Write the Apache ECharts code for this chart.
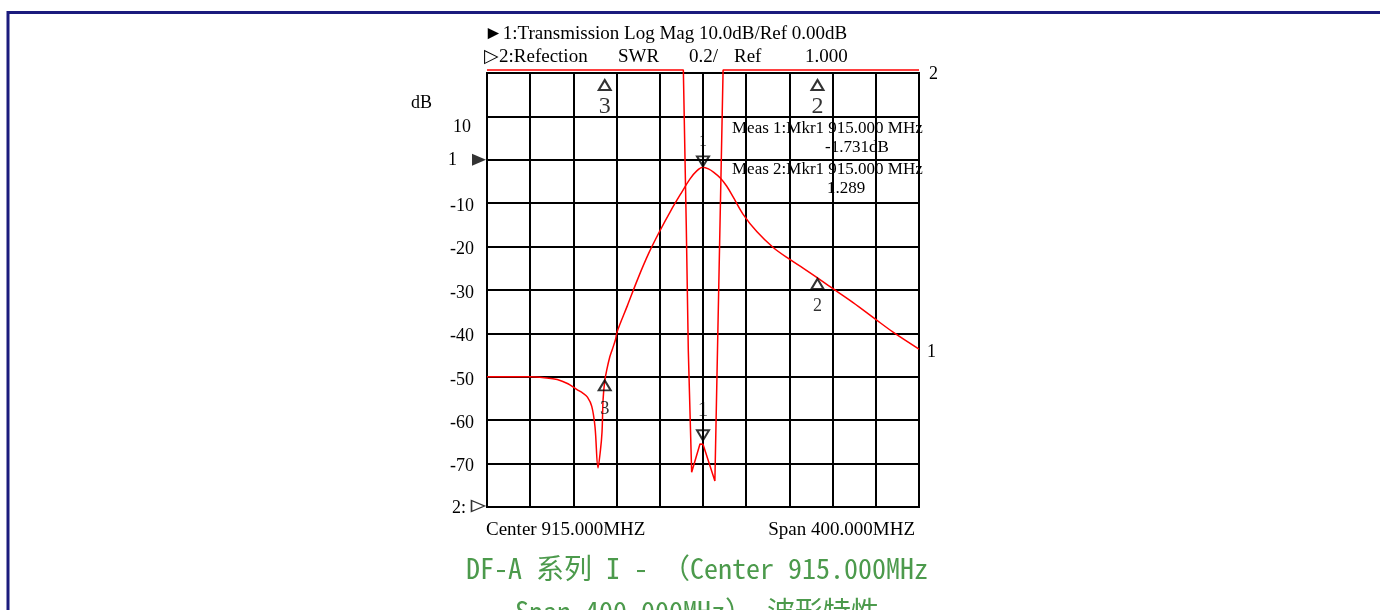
<!DOCTYPE html>
<html>
<head>
<meta charset="utf-8">
<script src="https://cdn.jsdelivr.net/npm/echarts@6/dist/echarts.min.js"></script>
<style>
html,body{margin:0;padding:0;background:#fff;}
#c{width:1380px;height:610px;}
</style>
</head>
<body>
<div id="c"></div>
<script>
// ---- data ----
const CENTER_MHZ = 915;
const SPAN_MHZ = 400;

// Trace 1: Transmission, Log Mag (dB)
const t1Freq = [715, 755, 768, 780, 790, 798, 804, 808, 812, 815, 817.8, 820, 821.5, 822.5, 824, 826, 828.5, 831, 834, 835.5, 845, 855, 865, 875, 885, 895, 903, 909, 915, 920, 925, 931, 937, 943, 952, 965, 980, 995, 1008, 1021, 1033, 1054, 1074, 1091, 1115];
const t1Db   = [-50, -50, -50.2, -50.6, -51.6, -52.9, -53.8, -54.7, -56.8, -61.5, -71.0, -67.0, -62.7, -55.2, -51.0, -48.3, -45.6, -43.7, -41.4, -39.6, -33.6, -27.2, -21.4, -16.4, -11.8, -7.6, -4.4, -2.6, -1.73, -2.1, -2.9, -4.2, -6.1, -8.6, -12.5, -16.6, -20.2, -22.9, -25.0, -27.2, -29.3, -32.9, -36.6, -39.7, -43.6];

// Trace 2: Reflection, SWR (values above 3.0 are off-scale at the top)
const t2Freq = [715, 896.8, 899.5, 901.4, 904.5, 912.2, 915, 916.7, 926, 933.6, 1115];
const t2Swr  = [3.014, 3.014, 2.30, 1.72, 1.16, 1.29, 1.289, 1.29, 1.12, 3.014, 3.014];

// Markers
const t1MarkerFreq = [915, 1021, 824];
const t1MarkerDb   = [-1.731, -27.2, -50.6];
const t1MarkerName = ['1', '2', '3'];
const t2MarkerFreq = [915, 1021, 824];
const t2MarkerSwr  = [1.289, 3.0, 3.0];
const t2MarkerName = ['1', '2', '3'];

// Axis settings / texts
const dbMin = -80, dbMax = 20, dbStep = 10;
const swrMin = 1.0, swrMax = 3.0, swrStep = 0.2;
const titleLine1 = '\u25BA1:Transmission Log Mag 10.0dB/Ref 0.00dB';
const titleLine2Parts = ['\u25B72:Refection', 'SWR', '0.2/', 'Ref', '1.000'];
const measLines = ['Meas 1:Mkr1 915.000 MHz', '-1.731dB', 'Meas 2:Mkr1 915.000 MHz', '1.289'];
const centerText = 'Center 915.000MHZ';
const spanText = 'Span 400.000MHZ';
const captionLine1 = 'DF-A 系列 I - （Center 915.000MHz';
const captionLine2 = 'Span 400.000MHz） 波形特性';

// ---- build ----
const off = f => f - CENTER_MHZ;
const t1Data = t1Freq.map((f, i) => [off(f), t1Db[i]]);
const t2Data = t2Freq.map((f, i) => [off(f), t2Swr[i]]);

const SERIF = '"Liberation Serif", "Times New Roman", serif';
const MONO = '"Noto Sans Mono CJK SC", "DejaVu Sans Mono", monospace';
const RED = '#ff0000';

const chart = echarts.init(document.getElementById('c'), null, {renderer: 'canvas'});

const yLabel = v => {
  if (v === 20) return '';
  if (v === 10) return '{ten|10}';
  if (v === 0) return '{one|1}';
  if (v === -80) return '{two|2:}';
  return '{n|' + v + '}';
};

const option = {
  animation: false,
  backgroundColor: '#ffffff',
  grid: {left: 487, top: 73, width: 432, height: 434, show: true, borderColor: '#000', borderWidth: 2, backgroundColor: 'transparent'},
  xAxis: {
    type: 'value', min: -SPAN_MHZ / 2, max: SPAN_MHZ / 2, interval: SPAN_MHZ / 10,
    axisLine: {show: false}, axisTick: {show: false}, axisLabel: {show: false},
    splitLine: {show: true, lineStyle: {color: '#000', width: 2}}
  },
  yAxis: [
    {
      type: 'value', min: dbMin, max: dbMax, interval: dbStep,
      axisLine: {show: false}, axisTick: {show: false},
      splitLine: {show: true, lineStyle: {color: '#000', width: 2}},
      axisLabel: {
        show: true, align: 'center', margin: 25, formatter: yLabel,
        fontFamily: SERIF, fontSize: 18, color: '#000',
        rich: {
          n: {fontFamily: SERIF, fontSize: 18, color: '#000', padding: [6, 0, 0, 0]},
          ten: {fontFamily: SERIF, fontSize: 18, color: '#000', padding: [22, 0, 0, 0]},
          one: {fontFamily: SERIF, fontSize: 18, color: '#000', padding: [0, 19, 0, 0]},
          two: {fontFamily: SERIF, fontSize: 18, color: '#000', padding: [2, 6, 0, 0]}
        }
      }
    },
    {
      type: 'value', min: swrMin, max: swrMax, interval: swrStep, show: false,
      splitLine: {show: false}
    }
  ],
  series: [
    {
      name: 'Transmission', type: 'line', yAxisIndex: 0, data: t1Data,
      showSymbol: false, smooth: 0.35, clip: false,
      lineStyle: {color: RED, width: 1.5},
      endLabel: {show: true, formatter: '1', fontFamily: SERIF, fontSize: 18, color: '#000', distance: 8, offset: [0, 3]},
      z: 5
    },
    {
      name: 'Refection', type: 'line', yAxisIndex: 1, data: t2Data,
      showSymbol: false, smooth: false, clip: false,
      lineStyle: {color: RED, width: 1.5},
      endLabel: {show: true, formatter: '2', fontFamily: SERIF, fontSize: 18, color: '#000', distance: 10, offset: [0, 4]},
      z: 5
    },
    // trace 1 markers
    {
      type: 'scatter', yAxisIndex: 0, clip: false, z: 6,
      data: t1MarkerFreq.map((f, i) => {
        const down = i === 0;
        return {
          value: [off(f), t1MarkerDb[i]],
          symbol: 'triangle', symbolSize: [12, 10], symbolRotate: down ? 180 : 0,
          symbolOffset: [0, down ? -6 : 6],
          label: {
            show: true, formatter: t1MarkerName[i], position: down ? 'top' : 'bottom',
            distance: down ? 0 : 2, offset: [0, down ? -6 : 6],
            fontFamily: SERIF, fontSize: down ? 16 : (i === 2 ? 19 : 18), color: '#000'
          }
        };
      }),
      itemStyle: {color: 'rgba(255,255,255,0)', borderColor: '#000', borderWidth: 2}
    },
    // trace 2 markers
    {
      type: 'scatter', yAxisIndex: 1, clip: false, z: 6,
      data: t2MarkerFreq.map((f, i) => {
        const down = i === 0;
        return {
          value: [off(f), t2MarkerSwr[i]],
          symbol: 'triangle', symbolSize: [12, 10], symbolRotate: down ? 180 : 0,
          symbolOffset: [0, down ? -9 : 12],
          label: {
            show: true, formatter: t2MarkerName[i], position: down ? 'top' : 'bottom',
            distance: 0, offset: [0, down ? -8 : 4],
            fontFamily: SERIF, fontSize: down ? 21 : 24, color: '#000'
          }
        };
      }),
      itemStyle: {color: 'rgba(255,255,255,0)', borderColor: '#000', borderWidth: 2}
    },
    // reference level arrows at the left edge
    {
      type: 'scatter', yAxisIndex: 0, clip: false, z: 6,
      data: [{value: [-SPAN_MHZ / 2, 0], symbol: 'triangle', symbolSize: [12, 14], symbolRotate: -90, symbolOffset: [-8, 0]}],
      itemStyle: {color: '#000'}
    },
    {
      type: 'scatter', yAxisIndex: 1, clip: false, z: 6,
      data: [{value: [-SPAN_MHZ / 2, swrMin], symbol: 'triangle', symbolSize: [11, 13], symbolRotate: -90, symbolOffset: [-9, -1]}],
      itemStyle: {color: '#fff', borderColor: '#000', borderWidth: 1.5}
    }
  ],
  graphic: [
    {type: 'rect', shape: {x: 8, y: 12.5, width: 1500, height: 800}, style: {fill: 'none', stroke: '#1b1b7d', lineWidth: 3}, silent: true},
    {type: 'text', x: 484, y: 34, style: {text: titleLine1, font: '19px ' + SERIF, fill: '#000', verticalAlign: 'middle'}},
    {type: 'text', x: 484, y: 57, style: {text: titleLine2Parts[0], font: '19px ' + SERIF, fill: '#000', verticalAlign: 'middle'}},
    {type: 'text', x: 618, y: 57, style: {text: titleLine2Parts[1], font: '19px ' + SERIF, fill: '#000', verticalAlign: 'middle'}},
    {type: 'text', x: 689, y: 57, style: {text: titleLine2Parts[2], font: '19px ' + SERIF, fill: '#000', verticalAlign: 'middle'}},
    {type: 'text', x: 734, y: 57, style: {text: titleLine2Parts[3], font: '19px ' + SERIF, fill: '#000', verticalAlign: 'middle'}},
    {type: 'text', x: 805, y: 57, style: {text: titleLine2Parts[4], font: '19px ' + SERIF, fill: '#000', verticalAlign: 'middle'}},
    {type: 'text', x: 411, y: 103, style: {text: 'dB', font: '18px ' + SERIF, fill: '#000', verticalAlign: 'middle'}},
    {type: 'text', x: 732, y: 129, style: {text: measLines[0], font: '17px ' + SERIF, fill: '#000', verticalAlign: 'middle'}},
    {type: 'text', x: 825, y: 148, style: {text: measLines[1], font: '17px ' + SERIF, fill: '#000', verticalAlign: 'middle'}},
    {type: 'text', x: 732, y: 170, style: {text: measLines[2], font: '17px ' + SERIF, fill: '#000', verticalAlign: 'middle'}},
    {type: 'text', x: 827, y: 189, style: {text: measLines[3], font: '17px ' + SERIF, fill: '#000', verticalAlign: 'middle'}},
    {type: 'text', x: 486, y: 530, style: {text: centerText, font: '19px ' + SERIF, fill: '#000', verticalAlign: 'middle'}},
    {type: 'text', x: 915, y: 530, style: {text: spanText, font: '19px ' + SERIF, fill: '#000', verticalAlign: 'middle', align: 'right'}},
    {type: 'text', x: 697, y: 568, style: {text: captionLine1, font: '28px ' + MONO, fill: '#4c9a4c', verticalAlign: 'middle', align: 'center'}},
    {type: 'text', x: 697, y: 611, style: {text: captionLine2, font: '28px ' + MONO, fill: '#4c9a4c', verticalAlign: 'middle', align: 'center'}}
  ]
};
chart.setOption(option);
</script>
</body>
</html>
